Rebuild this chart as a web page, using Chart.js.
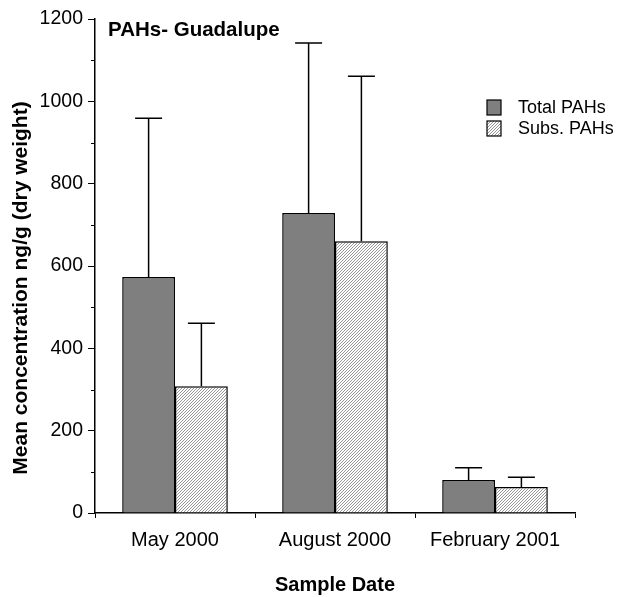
<!DOCTYPE html>
<html><head><meta charset="utf-8">
<script src="https://cdn.jsdelivr.net/npm/chart.js@4/dist/chart.umd.min.js"></script>
<style>html,body{margin:0;padding:0;background:#fff;}canvas{display:block;}</style>
</head><body>
<canvas id="c" width="617" height="597"></canvas>
<script>
const categories = ['May 2000', 'August 2000', 'February 2001'];
const totalPAHs = [573, 729, 80];
const subsPAHs = [308, 660, 63];
const totalSD = [386, 413, 30];
const subsSD = [153, 401, 24];
const yTicks = [0, 200, 400, 600, 800, 1000, 1200];
const chartTitle = 'PAHs- Guadalupe';
const yTitle = 'Mean concentration ng/g (dry weight)';
const xTitle = 'Sample Date';

const FONT = '"Liberation Sans", Arial, sans-serif';

function makeHatch() {
  const p = document.createElement('canvas');
  p.width = 3; p.height = 3;
  const g = p.getContext('2d');
  g.fillStyle = '#ffffff'; g.fillRect(0, 0, 3, 3);
  g.fillStyle = '#959595';
  g.fillRect(2, 0, 1, 1);
  g.fillRect(1, 1, 1, 1);
  g.fillRect(0, 2, 1, 1);
  return document.getElementById('c').getContext('2d').createPattern(p, 'repeat');
}
const hatch = makeHatch();

const extras = {
  id: 'extras',
  afterDatasetsDraw(chart) {
    const ctx = chart.ctx;
    const y = chart.scales.y;
    ctx.save();
    // error bars
    ctx.strokeStyle = '#000'; ctx.lineWidth = 1.5;
    chart.data.datasets.forEach((ds, i) => {
      const meta = chart.getDatasetMeta(i);
      meta.data.forEach((bar, j) => {
        const top = y.getPixelForValue(ds.data[j] + ds.errors[j]);
        ctx.beginPath();
        ctx.moveTo(bar.x, bar.y); ctx.lineTo(bar.x, top);
        ctx.moveTo(bar.x - 13.5, top); ctx.lineTo(bar.x + 13.5, top);
        ctx.stroke();
      });
    });
    // minor ticks
    ctx.lineWidth = 1;
    const ax = chart.chartArea.left;
    for (let v = 100; v < 1200; v += 200) {
      const py = Math.round(y.getPixelForValue(v)) + 0.5;
      ctx.beginPath(); ctx.moveTo(ax - 4, py); ctx.lineTo(ax, py); ctx.stroke();
    }
    // chart title
    ctx.fillStyle = '#000';
    ctx.font = 'bold 20.5px ' + FONT;
    ctx.textBaseline = 'alphabetic'; ctx.textAlign = 'left';
    ctx.fillText(chartTitle, 108, 36);
    // y axis title
    ctx.save();
    ctx.translate(21, (chart.chartArea.top + chart.chartArea.bottom) / 2 + 22);
    ctx.rotate(-Math.PI / 2);
    ctx.font = 'bold 21px ' + FONT;
    ctx.textAlign = 'center'; ctx.textBaseline = 'middle';
    ctx.fillText(yTitle, 0, 0);
    ctx.restore();
    // legend
    const items = [
      { label: chart.data.datasets[0].label, fill: chart.data.datasets[0].backgroundColor, y: 100 },
      { label: chart.data.datasets[1].label, fill: chart.data.datasets[1].backgroundColor, y: 121 }
    ];
    ctx.font = '18px ' + FONT;
    ctx.textBaseline = 'middle'; ctx.textAlign = 'left';
    items.forEach(it => {
      ctx.fillStyle = it.fill;
      ctx.fillRect(487, it.y, 14, 15);
      ctx.strokeStyle = '#000'; ctx.lineWidth = 1.2;
      ctx.strokeRect(487, it.y, 14, 15);
      ctx.fillStyle = '#000';
      ctx.fillText(it.label, 518, it.y + 8.5);
    });
    ctx.restore();
  }
};

new Chart(document.getElementById('c'), {
  type: 'bar',
  data: {
    labels: categories,
    datasets: [
      { label: 'Total PAHs', data: totalPAHs, errors: totalSD, backgroundColor: '#7f7f7f', borderColor: '#000', borderWidth: 1.5 },
      { label: 'Subs. PAHs', data: subsPAHs, errors: subsSD, backgroundColor: hatch, borderColor: '#000', borderWidth: 1.5 }
    ]
  },
  options: {
    responsive: false,
    animation: false,
    categoryPercentage: 0.66,
    barPercentage: 1,
    layout: { padding: { top: 19, right: 42, left: 0, bottom: 0 } },
    plugins: { legend: { display: false }, title: { display: false }, tooltip: { enabled: false } },
    scales: {
      x: {
        grid: { display: true, drawOnChartArea: false, offset: true, tickLength: 5, color: '#000', lineWidth: 1 },
        border: { color: '#000', width: 1.5 },
        ticks: { color: '#000', font: { size: 20, family: FONT }, padding: 10 },
        title: { display: true, text: xTitle, color: '#000', font: { size: 20, weight: 'bold', family: FONT }, padding: { top: 22, bottom: 0 } },
        afterFit: s => { s.height = 84; }
      },
      y: {
        min: 0, max: 1200,
        afterBuildTicks: s => { s.ticks = yTicks.map(v => ({ value: v })); },
        grid: { display: true, drawOnChartArea: false, tickLength: 7, color: '#000', lineWidth: 1 },
        border: { color: '#000', width: 1.5 },
        ticks: { color: '#000', font: { size: 19.5, family: FONT }, padding: 5, callback: v => String(v) },
        title: { display: false },
        afterFit: s => { s.width = 95; }
      }
    }
  },
  plugins: [extras]
});
</script>
</body></html>
